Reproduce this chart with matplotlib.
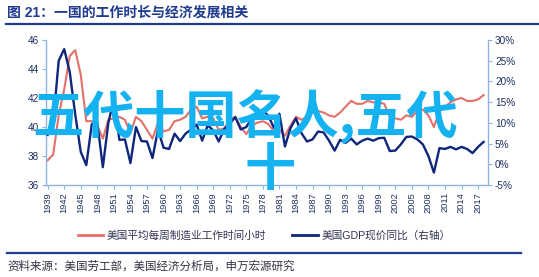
import matplotlib.pyplot as plt
from matplotlib.lines import Line2D

plt.rcParams['font.family'] = ['Liberation Sans', 'Noto Sans CJK SC']

# Data
years = list(range(1939, 2019))
hours = [37.7, 38.1, 40.8, 42.6, 44.9, 45.3, 43.6, 40.4, 40.4, 40.1,
         39.2, 40.5, 40.6, 40.7, 40.5, 39.6, 40.7, 40.4, 39.8, 39.2,
         40.3, 39.7, 39.8, 40.4, 40.5, 40.7, 41.2, 41.4, 40.6, 40.7,
         40.6, 39.8, 39.9, 40.5, 40.7, 40.0, 39.5, 40.1, 40.3, 40.4,
         40.2, 39.7, 39.8, 39.4, 40.1, 40.7, 40.5, 40.7, 41.0, 41.1,
         41.0, 40.8, 40.7, 41.0, 41.4, 41.8, 41.6, 41.6, 41.8, 41.7,
         41.7, 41.6, 40.7, 40.6, 40.5, 40.8, 40.7, 41.1, 41.2, 40.8,
         40.0, 41.1, 41.4, 41.7, 41.9, 42.0, 41.8, 41.8, 41.9, 42.2]
gdp_yoy = [7.1, 10.0, 25.0, 27.8, 22.3, 12.0, 3.0, -0.2, 9.7, 10.0,
           -0.7, 10.0, 15.7, 5.9, 6.0, 0.3, 9.0, 5.6, 5.5, 1.5,
           8.4, 4.0, 3.7, 7.4, 5.6, 7.4, 8.4, 9.6, 5.7, 9.4,
           8.2, 5.5, 8.5, 9.8, 11.4, 8.4, 9.0, 11.2, 11.1, 13.0,
           11.7, 8.8, 12.2, 4.3, 8.7, 11.1, 7.5, 5.5, 6.0, 7.9,
           7.7, 5.7, 3.3, 5.9, 5.2, 6.2, 4.8, 5.7, 6.2, 5.7,
           6.3, 6.4, 3.2, 3.3, 4.8, 6.6, 6.7, 6.0, 4.8, 2.0,
           -2.0, 3.9, 3.7, 4.2, 3.6, 4.2, 3.7, 2.7, 4.2, 5.4]
year_ticks = list(range(1939, 2018, 3))
hour_ticks = [36, 38, 40, 42, 44, 46]
pct_ticks = [-5, 0, 5, 10, 15, 20, 25, 30]
labels = ['美国平均每周制造业工作时间小时', '美国GDP现价同比（右轴）']

RED = '#E4706A'
BLUE = '#10267A'
SPINE = '#8DB4E2'
TICK = '#1F3060'
TITLE = '#1F3C8F'
CYAN = '#14B2F0'

W, H = 539, 277


def fx(px):
    return px / W


def fy(py):
    return 1 - py / H


fig = plt.figure(figsize=(W / 100, H / 100), dpi=100)
ax = fig.add_axes([fx(46), fy(185), (488 - 46) / W, (185 - 40) / H])
ax.plot(years, hours, color=RED, lw=1.5)
ax2 = ax.twinx()
ax2.plot(years, gdp_yoy, color=BLUE, lw=1.7)

ax.set_xlim(1938.7, 2018.8)
ax.set_ylim(36, 46)
ax2.set_ylim(-5, 30)
ax.set_xticks(year_ticks)
ax.set_xticklabels([str(y) for y in year_ticks], rotation=90)
ax.set_yticks(hour_ticks)
ax2.set_yticks(pct_ticks)
ax2.set_yticklabels(['%d%%' % p for p in pct_ticks])

for a in (ax, ax2):
    for s in a.spines.values():
        s.set_visible(False)
ax.spines['left'].set_visible(True)
ax.spines['bottom'].set_visible(True)
ax2.spines['right'].set_visible(True)
for s in (ax.spines['left'], ax.spines['bottom'], ax2.spines['right']):
    s.set_color(SPINE)
    s.set_linewidth(1.0)

ax.tick_params(axis='x', length=3, color=SPINE, labelsize=6.7, labelcolor=TICK, pad=2)
ax.tick_params(axis='y', length=3, color=SPINE, labelsize=7.2, labelcolor=TICK, pad=2)
ax2.tick_params(axis='y', length=3, color=SPINE, labelsize=7.2, labelcolor=TICK, pad=2)

# title and rules
fig.text(fx(7), fy(13), '图 21：一国的工作时长与经济发展相关', fontsize=10,
         weight='bold', color=TITLE, va='center', ha='left')
fig.add_artist(Line2D([fx(6), fx(539)], [fy(24), fy(24)], transform=fig.transFigure,
                      color=TITLE, lw=1.6))
fig.add_artist(Line2D([fx(7), fx(521)], [fy(253), fy(253)], transform=fig.transFigure,
                      color=TITLE, lw=1.6))
fig.text(fx(7), fy(267), '资料来源：美国劳工部，美国经济分析局，申万宏源研究', fontsize=8.3,
         color='#333344', va='center', ha='left')

handles = [Line2D([], [], color=RED, lw=2), Line2D([], [], color=BLUE, lw=2)]
fig.legend(handles, labels, loc='center', bbox_to_anchor=(fx(264), fy(235)), ncol=2,
           frameon=False, fontsize=7.7, handlelength=2.4, handletextpad=0.3,
           columnspacing=2.5, labelcolor='#333355')

# watermark overlay
fig.text(fx(32), fy(117), '五代十国名人,五代', fontsize=36.8, color=CYAN, weight='bold',
         family=['Noto Sans CJK SC'], va='center', ha='left', zorder=10)
fig.text(fx(270), fy(170), '十', fontsize=36.8, color=CYAN, weight='bold',
         family=['Noto Sans CJK SC'], va='center', ha='center', zorder=10)

fig.savefig('out.png', dpi=100)
